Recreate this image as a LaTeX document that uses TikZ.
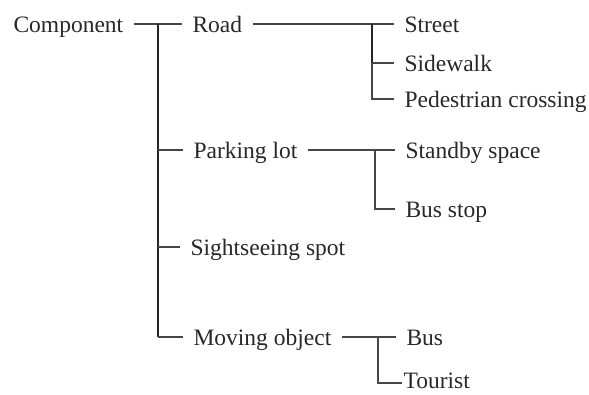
\documentclass[tikz,border=0pt]{standalone}
\usepackage{fontspec}
\usepackage{tikz}
\usepackage{xcolor}
\setmainfont{Liberation Serif}
\definecolor{textgray}{RGB}{40, 40, 40}
\definecolor{linegray}{RGB}{70, 70, 70}

\begin{document}
\begin{tikzpicture}[x = 1pt, y = -1pt, line width = 1.1pt,
  item/.style = {anchor = west, inner xsep = 10pt, inner ysep = 0pt, text height = 16pt, text depth = 0pt,
    font = \fontsize{23.5}{28}\selectfont, text = textgray},
  branch/.style = {draw = linegray},
  stem/.style = {draw = black!85, line width = 1.6pt}]
\useasboundingbox (0,0) rectangle (589,394);
% levels of the tree
\node[item] (comp) at (3,24) {Component};
\node[item] (road) at (182,24) {Road};
\node[item] (park) at (183,150) {Parking lot};
\node[item] (sight) at (180,247) {Sightseeing spot};
\node[item] (moving) at (183,337) {Moving object};
\node[item] (street) at (394,24) {Street};
\node[item] (side) at (394,63) {Sidewalk};
\node[item] (ped) at (394,99) {Pedestrian crossing};
\node[item] (standby) at (395,150) {Standby space};
\node[item] (busstop) at (395,209) {Bus stop};
\node[item] (bus) at (396,337) {Bus};
\node[item, inner xsep = 1pt, text height = 10pt] (tourist) at (402,383) {Tourist};
% joints
\coordinate (t) at (158,24);
\coordinate (r) at (372,24);
\coordinate (p) at (375,150);
\coordinate (m) at (378,337);
% connectors
\draw[branch] (comp) -- (road);
\draw[stem] (t) -- (t |- moving);
\draw[branch] (t |- moving) -- (moving);
\draw[branch] (t |- park) -- (park);
\draw[branch] (t |- sight) -- (sight);
\draw[branch] (road) -- (street);
\draw[stem] (r) -- (r |- side);
\draw[branch] (r |- side) |- (ped);
\draw[branch] (r |- side) -- (side);
\draw[branch] (park) -- (standby);
\draw[branch] (p) |- (busstop);
\draw[branch] (moving) -- (bus);
\draw[branch] (m) |- (tourist);
\end{tikzpicture}
\end{document}
